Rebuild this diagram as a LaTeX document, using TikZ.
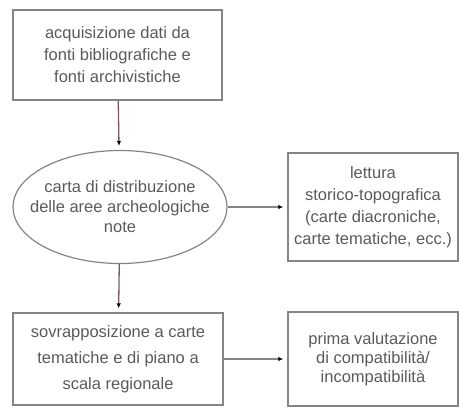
\documentclass[tikz,border=0pt]{standalone}
\usepackage{fontspec}
\setmainfont{Liberation Sans}
\usetikzlibrary{shapes.geometric,arrows.meta}
\definecolor{bordo}{HTML}{858585}
\definecolor{testo}{HTML}{5A5A5A}
\definecolor{linea}{HTML}{7A5A55}

\begin{document}
\begin{tikzpicture}[
    fase/.style={draw=bordo, line width=1.4pt, rectangle, align=center, text=testo,
        font=\fontsize{16.5}{22}\selectfont},
    freccia/.style={line width=1.3pt, -{Latex[length=5pt,width=4.5pt,fill=black,color=black]}, shorten >=4pt}
  ]
    \useasboundingbox (0,0) rectangle (459pt,-408pt);
    % fasi del lavoro
    \node[fase, minimum width=209pt, minimum height=90pt] (fonti) at (117.5pt,-55pt)
        {acquisizione dati da\\fonti bibliografiche e\\fonti archivistiche};
    \node[draw=bordo, line width=1.2pt, ellipse, inner sep=0pt, minimum width=214pt, minimum height=113pt] (carta) at (120pt,-207pt) {};
    \node[align=center, text=testo, font=\fontsize{16.5}{20}\selectfont] (cartatxt) at (carta.center)
        {carta di distribuzione\\delle aree archeologiche\\note};
    \node[fase, minimum width=170pt, minimum height=108pt] (lettura) at (373pt,-207pt)
        {lettura\\storico-topografica\\(carte diacroniche,\\carte tematiche, ecc.)};
    \node[fase, minimum width=210pt, minimum height=92pt, font=\fontsize{16.5}{26}\selectfont] (sovrapp) at (118pt,-359pt)
        {sovrapposizione a carte\\tematiche e di piano a\\scala regionale};
    \node[fase, minimum width=170pt, minimum height=94pt, font=\fontsize{16.5}{19}\selectfont] (valut) at (373pt,-359pt)
        {prima valutazione\\di compatibilità/\\incompatibilità};
    % frecce
    \draw[freccia, draw=linea] (fonti) -- (carta);
    \draw[freccia, draw=linea] (carta) -- (sovrapp);
    \draw[freccia, draw=bordo] (carta.east) -- (lettura.west);
    \draw[freccia, draw=bordo] (sovrapp) -- (valut);
\end{tikzpicture}
\end{document}
